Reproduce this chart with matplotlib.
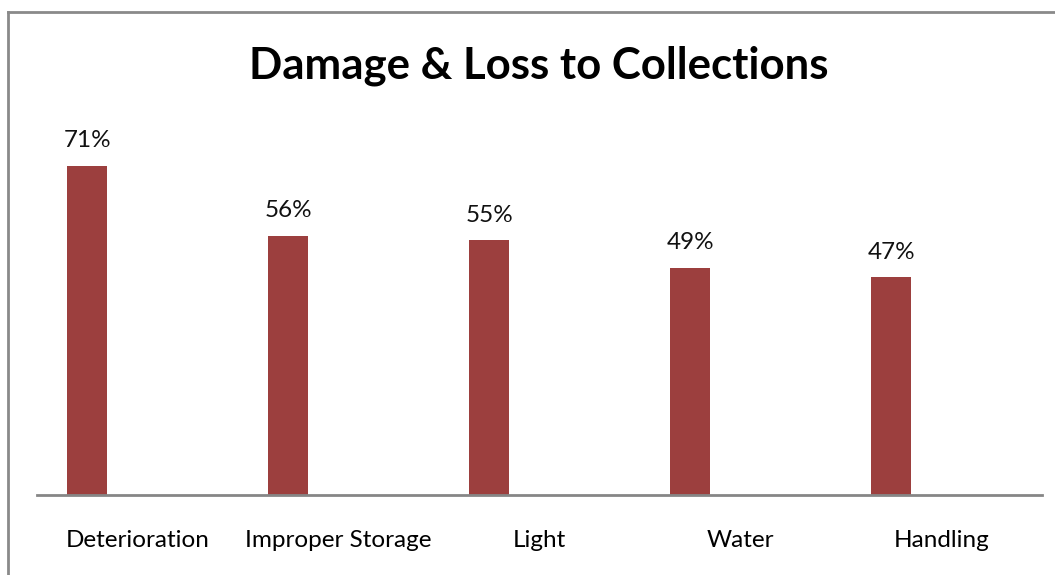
import numpy as np
import matplotlib.pyplot as plt
from matplotlib.lines import Line2D

categories = ['Deterioration', 'Improper Storage', 'Light', 'Water', 'Handling']
values = [0.71, 0.56, 0.55, 0.49, 0.47]
labels = ['71%', '56%', '55%', '49%', '47%']

W, H = 1055, 575
fig = plt.figure(figsize=(W / 100, H / 100), dpi=100)

# axes placed in pixel terms: baseline at y=495, 0.8 -> ~370 px tall
left, right = 37, 1042
base, top = 495, 495 - 0.8 * 463
ax = fig.add_axes([left / W, (H - base) / H, (right - left) / W, (base - top) / H])

x = np.arange(len(categories))
ax.bar(x - 0.25, values, width=0.2, color='#9C3F3E')
for xi, v, lab in zip(x, values, labels):
    ax.text(xi - 0.25, v + 0.032, lab, ha='center', va='bottom',
            fontsize=17.5, family='Lato', color='#111111')

ax.set_xlim(-0.5, len(categories) - 0.5)
ax.set_ylim(0, 0.8)
ax.set_xticks(x)
ax.set_xticklabels(categories, fontsize=17.5, family='Lato')
ax.tick_params(axis='x', length=0, pad=25)
ax.set_yticks([])
for s in ('left', 'right', 'top'):
    ax.spines[s].set_visible(False)
ax.spines['bottom'].set_color('#868686')
ax.spines['bottom'].set_linewidth(2)

fig.text(539 / W, 1 - 66 / H, 'Damage & Loss to Collections', ha='center', va='center',
         fontsize=31.5, fontweight='bold', family='Lato')

# outer chart border (only left and top visible in the crop)
fig.add_artist(Line2D([7.5 / W, 7.5 / W], [0, 1 - 12 / H], color='#8a8a8a', lw=2))
fig.add_artist(Line2D([7.5 / W, 1], [1 - 12 / H, 1 - 12 / H], color='#8a8a8a', lw=2))

fig.savefig('out.png', dpi=100)
